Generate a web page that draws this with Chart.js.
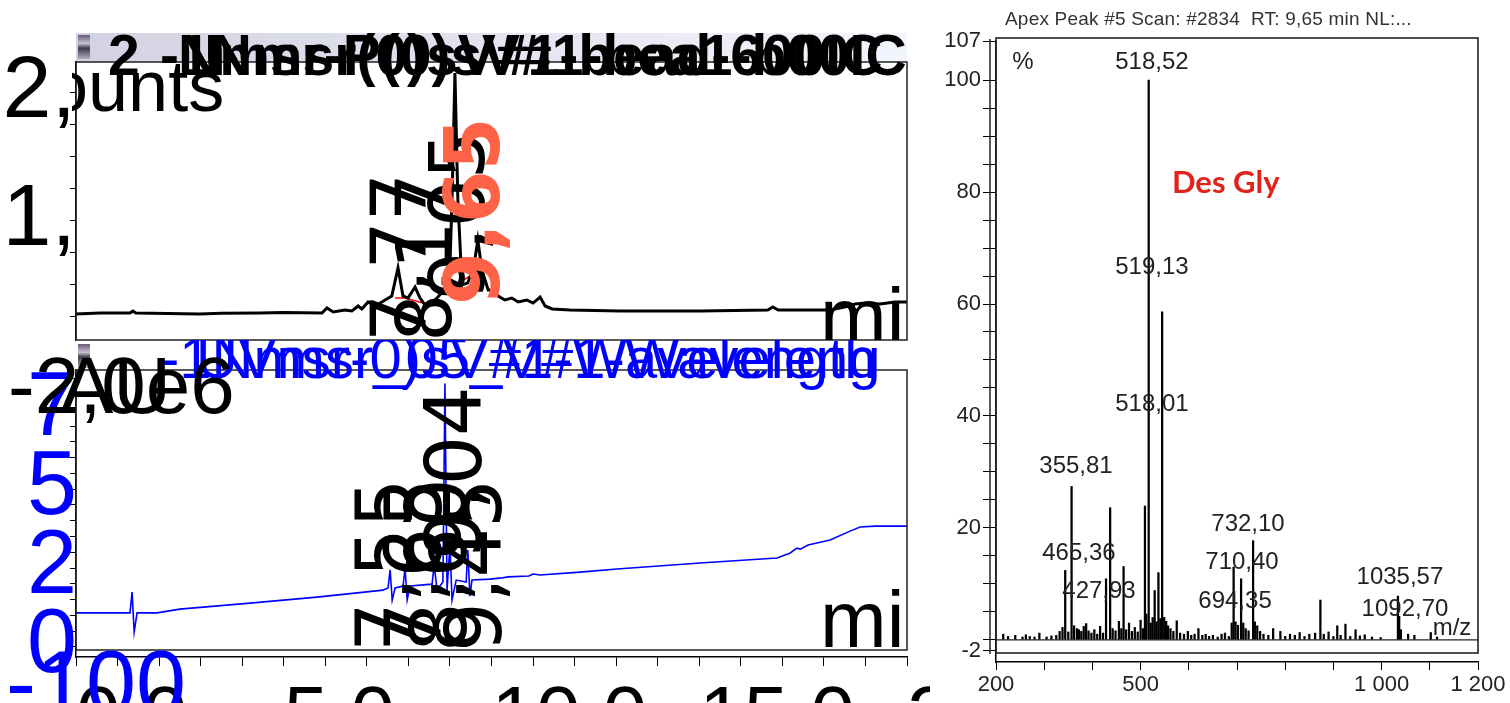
<!DOCTYPE html>
<html>
<head>
<meta charset="utf-8">
<title>Des Gly - chromatograms and apex spectrum</title>
<script src="https://cdn.jsdelivr.net/npm/chart.js@4.4.1/dist/chart.umd.min.js"></script>
<style>
  html, body { margin: 0; padding: 0; background: #fff; }
  body { position: relative; width: 1510px; height: 703px; overflow: hidden; font-family: 'Liberation Sans', Arial, sans-serif; }
  canvas { position: absolute; top: 0; }
  .band { position: absolute; background: linear-gradient(to right, #d2d2e2, #f3f5fd); }
  .icon { position: absolute; width: 12px; height: 24px; background: linear-gradient(#6a5a7a, #c8c0d0 35%, #3a3a4a 55%, #b0b0c0); }
  .clip { position: absolute; overflow: hidden; }
  .txt { position: absolute; white-space: pre; line-height: 1; }
</style>
</head>
<body>
<div class="band" style="left:76px;top:33px;width:831px;height:29px"></div>
<div class="icon" style="left:78px;top:35px"></div>
<div class="icon" style="left:78px;top:344px"></div>

<canvas id="topChart" width="930" height="703" style="left:0"></canvas>
<canvas id="uvChart" width="930" height="703" style="left:0"></canvas>
<canvas id="specChart" width="580" height="703" style="left:930px"></canvas>

<!-- header of the top trace -->
<div class="clip" style="left:0;top:33px;width:930px;height:60px">
  <div class="txt" style="left:108px;top:-6px;font-size:57px;font-weight:bold">2</div>
  <div class="txt" style="left:160px;top:-6px;font-size:57px;font-weight:bold">-1Nmsr(0)sV#1-bead-600IC</div>
  <div class="txt" style="left:178px;top:-6px;font-size:57px;font-weight:bold">Nmsr-P(0)sV#1-bea1-b00IC</div>
</div>
<div class="clip" style="left:72px;top:62px;width:200px;height:70px">
  <div class="txt" style="left:-76px;top:-12px;font-size:72px">Counts</div>
</div>
<div class="clip" style="left:76px;top:62px;width:831px;height:278px">
  <div class="txt" style="left:744px;top:215px;font-size:80px">min</div>
</div>

<!-- header of the UV trace -->
<div class="clip" style="left:0;top:340px;width:930px;height:60px">
  <div class="txt" style="left:160px;top:-11px;font-size:58px;color:#0000ff">-1Nmsr-0)sV#1-Wavelength</div>
  <div class="txt" style="left:196px;top:-11px;font-size:58px;color:#0000ff">UVmsr_05_V#1-Waveleng</div>
</div>
<div class="txt" style="left:8px;top:346px;font-size:80px">-2,0e6</div>
<div class="txt" style="left:60px;top:346px;font-size:80px">AU</div>
<div class="clip" style="left:76px;top:370px;width:831px;height:280px">
  <div class="txt" style="left:744px;top:210px;font-size:80px">min</div>
</div>
<div class="txt" style="left:6px;top:638px;font-size:90px;color:#0000ff">-100</div>

<!-- spectrum captions -->
<div class="txt" style="left:1005px;top:9px;font-size:19px;letter-spacing:0.2px;color:#333">Apex Peak #5 Scan: #2834  RT: 9,65 min NL:...</div>
<div class="txt" style="left:1172px;top:166px;font-size:31px;font-weight:bold;color:#e0231b;font-family:Lato,'Open Sans',sans-serif">Des Gly</div>

<script>
// ---- top trace: counts (x1e6) vs retention time (min) ----
const topTimes  = [0, 0.58, 1.3, 1.37, 1.44, 2.98, 3.5, 4.43, 5.0, 5.92, 6.04, 6.19, 6.47, 6.64, 6.79, 6.88, 7.03, 7.2, 7.44, 7.6,
                   7.75, 7.87, 7.99, 8.16, 8.28, 8.4, 8.57, 8.71, 8.86, 8.98, 9.05, 9.12, 9.19, 9.29, 9.43, 9.58, 9.67, 9.77, 9.92, 10.04,
                   10.16, 10.32, 10.49, 10.64, 10.85, 11.0, 11.17, 11.29, 11.46, 11.89, 13.09, 15.02, 16.65, 16.77, 16.9, 18.15, 18.5, 18.75, 18.99, 19.35,
                   19.71, 20];
const topCounts = [0.273, 0.281, 0.281, 0.297, 0.281, 0.273, 0.279, 0.281, 0.285, 0.281, 0.320, 0.289, 0.305, 0.297, 0.336, 0.313, 0.367, 0.336, 0.383, 0.414,
                   0.633, 0.414, 0.398, 0.484, 0.398, 0.344, 0.359, 0.406, 0.461, 0.461, 1.164, 2.156, 1.164, 0.500, 0.516, 0.656, 0.852, 0.617, 0.461, 0.461,
                   0.414, 0.383, 0.398, 0.367, 0.383, 0.359, 0.406, 0.336, 0.313, 0.305, 0.297, 0.297, 0.305, 0.328, 0.305, 0.305, 0.328, 0.352, 0.359, 0.352,
                   0.367, 0.367];
// integration baselines (red)
const baseTimes  = [7.68, 7.92, 8.35, 8.6, 8.88, 9.55];
const baseCounts = [0.398, 0.398, 0.360, null, 0.460, 0.580];
const topYLabelVals = [1, 2];
const topYLabels    = ['1,', '2,'];
const topRtText = ['7,77', '8,17', '9,05', '9,65'];
const topRtTime = [7.95, 8.55, 9.35, 9.7];

// ---- UV trace: absorbance (mAU) vs retention time (min) ----
const uvTimes = [0, 1.30, 1.35, 1.40, 1.47, 1.95, 2.50, 4.19, 5.80, 7.39, 7.51, 7.56, 7.61, 7.68, 7.87, 7.92, 7.97, 8.04, 8.57, 8.62,
                 8.69, 8.83, 8.88, 8.93, 9.00, 9.05, 9.15, 9.39, 9.43, 9.48, 9.53, 9.96, 10.2, 10.4, 10.9, 11.0, 11.17, 12.13, 13.02, 15.02,
                 16.87, 17.18, 17.35, 17.43, 17.62, 18.15, 18.63, 18.87, 19.23, 20.0];
const uvAbs   = [108, 108, 174, 47, 108, 108, 120, 139, 158, 180, 187, 244, 149, 187, 193, 250, 149, 193, 199, 259,
                 180, 206, 835, 180, 323, 149, 212, 206, 307, 161, 212, 215, 218, 222, 225, 231, 228, 237, 247, 266,
                 282, 297, 313, 310, 323, 339, 367, 380, 383, 383];
const uvYLabelVals = [0, 250, 500, 750];
const uvYLabels    = ['0', '2', '5', '7'];
const timeLabelVals = [0, 5, 10, 15, 20];
const timeLabels    = ['0.0', '5.0', '10.0', '15.0', '20.0'];
const uvRtText = ['7,55', '7,65', '8,60', '9,04', '9,45'];
const uvRtTime = [7.6, 8.3, 8.9, 9.25, 9.75];

// ---- apex spectrum: relative abundance (%) vs m/z ----
const specMz  = [215, 225, 240, 255, 262, 270, 280, 290, 305, 315, 325, 332, 338, 343.6, 350, 356.8, 362, 368, 372, 377,
                 382, 387, 392, 398, 404, 410, 416, 422, 428.3, 436.8, 442, 448, 455, 460, 464.7, 470, 476, 482, 488, 494,
                 500, 505, 509, 512, 516.8, 521, 525, 529.2, 533, 537, 541, 544.7, 549, 553, 557, 562, 568, 575, 582, 590,
                 598, 605, 612, 620, 628, 635, 642, 650, 660, 668, 675, 683, 689, 693, 697, 702, 708.5, 713, 718, 724,
                 733.4, 737, 742, 748, 755, 765, 775, 790, 800, 810, 820, 830, 840, 850, 862, 873, 880, 890, 900, 908,
                 915, 925, 935, 946, 955, 965, 980, 998, 1033.9, 1036.5, 1040, 1055, 1068, 1102, 1115];
const specPct = [1.0, 0.6, 0.8, 0.5, 0.9, 0.6, 0.5, 1.2, 0.5, 0.7, 0.8, 1.5, 2.2, 12.4, 1.4, 27.4, 2.5, 2.0, 1.8, 1.5,
                 2.4, 2.9, 1.6, 1.2, 1.8, 1.0, 2.4, 1.2, 10.9, 23.6, 2.0, 1.6, 3.3, 2.0, 13.1, 1.8, 3.0, 1.5, 2.2, 1.4,
                 3.5, 2.0, 23.9, 4.6, 100, 3.0, 4.0, 8.8, 3.2, 12.0, 3.8, 58.6, 4.0, 3.3, 2.5, 2.0, 1.5, 3.4, 1.2, 1.0,
                 1.5, 0.8, 1.0, 2.0, 0.8, 1.0, 0.6, 0.8, 0.5, 1.0, 1.2, 0.6, 3.0, 13.0, 3.2, 2.6, 10.9, 3.0, 2.0, 1.6,
                 17.7, 3.2, 2.5, 1.5, 1.0, 0.8, 2.0, 1.5, 0.6, 1.0, 0.8, 1.3, 0.6, 1.0, 1.2, 7.1, 1.0, 1.4, 0.6, 2.5,
                 0.8, 2.8, 0.6, 1.8, 0.7, 0.9, 0.5, 0.4, 7.8, 4.2, 1.8, 1.0, 0.8, 1.3, 0.5];
const peakText = ['518,52', '519,13', '518,01', '355,81', '465,36', '427,93', '732,10', '710,40', '694,35', '1035,57', '1092,70', 'm/z', '%'];
const peakMz   = [523.6, 523.6, 523.6, 366, 372, 413.7, 722.8, 710.4, 695.9, 1038, 1048.5, 1146, 256];
const peakPct  = [103.2, 66.6, 42.1, 30.9, 15.5, 8.6, 20.7, 13.9, 6.8, 11.1, 5.4, 2.1, 103.2];
const mzLabelVals  = [200, 500, 1000, 1200];
const mzLabels     = ['200', '500', '1 000', '1 200'];
const pctLabelVals = [-2, 20, 40, 60, 80, 100, 107];
const pctLabels    = ['-2', '20', '40', '60', '80', '100', '107'];
const pctTickVals  = [-2, 0, 5, 10, 15, 20, 25, 30, 35, 40, 45, 50, 55, 60, 65, 70, 75, 80, 85, 90, 95, 100, 107];

// Utility functions
function pairs(xs, ys) {
    return xs.map((x, i) => ({ x: x, y: ys[i] }));
}

function lookup(vals, labels) {
    return function(value) {
        const i = vals.findIndex(v => Math.abs(v - value) < 1e-6);
        return i >= 0 ? labels[i] : '';
    };
}

// frame round the plot area, offsets in pixels
const framePlugin = {
    id: 'frame',
    afterDatasetsDraw(chart, args, opts) {
        const { ctx, chartArea: a } = chart;
        const o = opts.inset || {};
        ctx.save();
        ctx.strokeStyle = opts.color || '#000';
        ctx.lineWidth = opts.width || 1.5;
        const top = a.top + (o.top || 0), bottom = a.bottom + (o.bottom || 0);
        ctx.strokeRect(a.left, top, a.width, bottom - top);
        if (opts.zeroLine) {
            const y = chart.scales.y.getPixelForValue(0);
            ctx.lineWidth = 1.2;
            ctx.beginPath(); ctx.moveTo(a.left, y); ctx.lineTo(a.right, y); ctx.stroke();
        }
        if (opts.axisOffset) {
            ctx.lineWidth = 1.5;
            ctx.beginPath();
            ctx.moveTo(a.left - opts.axisOffset, a.top - 2);
            ctx.lineTo(a.left - opts.axisOffset, bottom + 1);
            ctx.stroke();
        }
        ctx.restore();
    }
};

// retention-time labels, written upward from a start row
const rtLabelPlugin = {
    id: 'rtLabels',
    afterDatasetsDraw(chart, args, opts) {
        if (!opts.text) return;
        const { ctx } = chart;
        const xs = chart.scales.x;
        opts.text.forEach((txt, i) => {
            const hi = i === opts.highlight;
            ctx.save();
            ctx.translate(xs.getPixelForValue(opts.times[i]), opts.startY[i]);
            ctx.rotate(-Math.PI / 2);
            ctx.fillStyle = hi ? '#ff6347' : '#000';
            ctx.font = (hi ? 'bold ' : '') + opts.size + 'px "DejaVu Sans", sans-serif';
            ctx.textAlign = 'left';
            ctx.textBaseline = 'middle';
            ctx.fillText(txt, 0, 0);
            ctx.restore();
        });
    }
};

// peak annotations of the spectrum, centred on a data point
const peakTextPlugin = {
    id: 'peakText',
    afterDatasetsDraw(chart, args, opts) {
        if (!opts.text) return;
        const { ctx } = chart;
        ctx.save();
        ctx.fillStyle = '#222';
        ctx.font = opts.font;
        ctx.textAlign = 'center';
        ctx.textBaseline = 'middle';
        opts.text.forEach((txt, i) => {
            ctx.fillText(txt, chart.scales.x.getPixelForValue(opts.mz[i]), chart.scales.y.getPixelForValue(opts.pct[i]));
        });
        ctx.restore();
    }
};

function noPadding(scale) {
    scale.paddingLeft = 0; scale.paddingRight = 0;
    scale.paddingTop = 0; scale.paddingBottom = 0;
}

const bigFont = '"Liberation Sans", Arial, sans-serif';

// Initialize the top trace
new Chart(document.getElementById('topChart'), {
    type: 'line',
    data: {
        datasets: [
            { data: pairs(topTimes, topCounts), borderColor: '#000', borderWidth: 3, pointRadius: 0, tension: 0 },
            { data: pairs(baseTimes, baseCounts), borderColor: '#ff0000', borderWidth: 1.6, pointRadius: 0, spanGaps: false }
        ]
    },
    options: {
        responsive: false,
        animation: false,
        events: [],
        layout: { padding: { top: 62, bottom: 363, left: 0, right: 23 } },
        plugins: {
            legend: { display: false },
            tooltip: { enabled: false },
            frame: { width: 1.5, color: '#222' },
            rtLabels: { text: topRtText, times: topRtTime, startY: [342, 342, 300, 305], highlight: 3, size: 76 }
        },
        scales: {
            x: { type: 'linear', display: false, min: 0, max: 20 },
            y: {
                min: 0.0703, max: 2.242,
                afterFit: s => { s.width = 76; noPadding(s); },
                grid: { drawOnChartArea: false, tickLength: 6, color: '#000' },
                border: { color: '#000', width: 1.5 },
                ticks: {
                    stepSize: 0.25, includeBounds: false, autoSkip: false, padding: -6, color: '#000',
                    font: { size: 88, family: bigFont },
                    callback: lookup(topYLabelVals, topYLabels)
                }
            }
        }
    },
    plugins: [framePlugin, rtLabelPlugin]
});

// Initialize the UV trace
new Chart(document.getElementById('uvChart'), {
    type: 'line',
    data: {
        datasets: [
            { data: pairs(uvTimes, uvAbs), borderColor: '#0000ff', borderWidth: 1.6, pointRadius: 0, tension: 0 }
        ]
    },
    options: {
        responsive: false,
        animation: false,
        events: [],
        layout: { padding: { top: 370, bottom: 0, left: 0, right: 23 } },
        plugins: {
            legend: { display: false },
            tooltip: { enabled: false },
            frame: { width: 1.5, color: '#222', inset: { bottom: -7 } },
            rtLabels: { text: uvRtText, times: uvRtTime, startY: [652, 652, 652, 560, 652], highlight: -1, size: 78 }
        },
        scales: {
            x: {
                type: 'linear', min: 0, max: 20,
                afterFit: s => { s.height = 46; noPadding(s); },
                grid: { drawOnChartArea: false, tickLength: 9, color: '#000' },
                border: { color: '#000', width: 1.5 },
                ticks: {
                    stepSize: 1, autoSkip: false, maxRotation: 0, minRotation: 0, padding: 0, align: 'start', color: '#000',
                    font: { size: 80, family: bigFont, lineHeight: 1.35 },
                    callback: lookup(timeLabelVals, timeLabels)
                }
            },
            y: {
                min: -31.7, max: 877.4,
                afterFit: s => { s.width = 76; noPadding(s); },
                grid: { drawOnChartArea: false, tickLength: 6, color: '#000' },
                border: { color: '#000', width: 1.5 },
                ticks: {
                    stepSize: 50, includeBounds: false, autoSkip: false, padding: -7, color: '#0000ff',
                    font: { size: 90, family: bigFont },
                    callback: lookup(uvYLabelVals, uvYLabels)
                }
            }
        }
    },
    plugins: [framePlugin, rtLabelPlugin]
});

// Initialize the spectrum
const smallFont = '"Liberation Sans", Arial, sans-serif';
new Chart(document.getElementById('specChart'), {
    type: 'bar',
    data: {
        datasets: [
            { data: pairs(specMz, specPct), backgroundColor: '#000', barThickness: 1.6 }
        ]
    },
    options: {
        responsive: false,
        animation: false,
        events: [],
        layout: { padding: { top: 41, bottom: 0, left: 0, right: 32 } },
        plugins: {
            legend: { display: false },
            tooltip: { enabled: false },
            frame: { width: 1.6, color: '#222', inset: { top: -3, bottom: -9 }, zeroLine: true, axisOffset: 6 },
            peakText: { text: peakText, mz: peakMz, pct: peakPct, font: '24px ' + smallFont }
        },
        scales: {
            x: {
                type: 'linear', min: 200, max: 1200, offset: false,
                afterFit: s => { s.height = 41; noPadding(s); },
                grid: { drawOnChartArea: false, offset: false, tickLength: 8, color: '#000' },
                border: { color: '#000', width: 1.5 },
                ticks: {
                    stepSize: 100, autoSkip: false, maxRotation: 0, padding: 2, color: '#222',
                    font: { size: 22, family: smallFont },
                    callback: lookup(mzLabelVals, mzLabels)
                }
            },
            y: {
                min: -3.97, max: 107,
                afterFit: s => { s.width = 66; noPadding(s); },
                afterBuildTicks: s => { s.ticks = pctTickVals.map(v => ({ value: v })); },
                grid: { drawOnChartArea: false, tickLength: 13, color: '#000' },
                border: { color: '#000', width: 1.5 },
                ticks: {
                    autoSkip: false, padding: 2, color: '#222',
                    font: { size: 22, family: smallFont },
                    callback: lookup(pctLabelVals, pctLabels)
                }
            }
        }
    },
    plugins: [framePlugin, peakTextPlugin]
});
</script>
</body>
</html>
